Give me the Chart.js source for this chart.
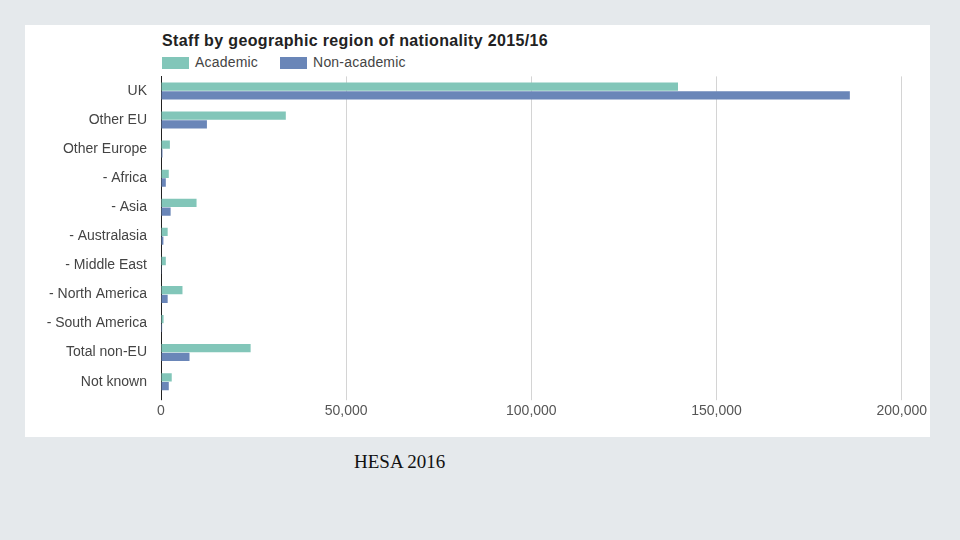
<!DOCTYPE html>
<html>
<head>
<meta charset="utf-8">
<script src="https://cdn.jsdelivr.net/npm/chart.js@4.4.1/dist/chart.umd.min.js"></script>
<style>
    body{ margin:0; width:960px; height:540px; background:#e5e9ec; position:relative; overflow:hidden; font-family:"Liberation Sans", Arial, sans-serif; }
    .panel{ position:absolute; left:25px; top:25px; width:905px; height:412px; background:#fff; }
    .title{ position:absolute; left:162px; top:32px; font-size:16px; letter-spacing:0.35px; font-weight:bold; color:#222; white-space:nowrap; }
    .legend{ position:absolute; top:54px; left:162px; font-size:14px; letter-spacing:0.2px; color:#444; white-space:nowrap; }
    .legend span.box{ display:inline-block; width:27px; height:12px; vertical-align:-2px; margin-right:6px; }
    .legend .item{ display:inline-block; margin-right:22px; }
    .wrap{ position:absolute; left:25px; top:54px; width:905px; height:369px; }
    .caption{ position:absolute; left:354px; top:451px; font-family:"Liberation Serif", "DejaVu Serif", serif; font-size:19px; color:#111; }
</style>
</head>
<body>
<div class="panel"></div>
<div class="title">Staff by geographic region of nationality 2015/16</div>
<div class="legend"></div>
<div class="wrap"><canvas id="bars"></canvas></div>
<div class="caption">HESA 2016</div>
<script>
// 카테고리
const regions = ['UK', 'Other EU', 'Other Europe', '- Africa', '- Asia', '- Australasia',
    '- Middle East', '- North America', '- South America', 'Total non-EU', 'Not known'];
// 학술 직원
const academic = [139600, 33700, 2400, 2100, 9600, 1800, 1300, 5800, 700, 24200, 2900];
// 비학술 직원
const nonAcademic = [186000, 12400, 400, 1300, 2600, 650, 200, 1800, 300, 7700, 2100];
const seriesNames = ['Academic', 'Non-academic'];
const colors = ['#82c6b9', '#6a86b8'];

// 범례
seriesNames.forEach((name, i) => {
    document.querySelector('.legend').insertAdjacentHTML('beforeend',
        `<span class="item"><span class="box" style="background:${colors[i]}"></span>${name}</span>`);
});

new Chart(document.getElementById('bars'), {
    type: 'bar',
    data: {
        labels: regions,
        datasets: [
            { label: seriesNames[0], data: academic, backgroundColor: colors[0] },
            { label: seriesNames[1], data: nonAcademic, backgroundColor: colors[1] }
        ]
    },
    options: {
        indexAxis: 'y',
        responsive: true,
        maintainAspectRatio: false,
        animation: false,
        categoryPercentage: 0.6,
        barPercentage: 0.95,
        layout: { padding: { top: 7, right: 17, bottom: 0, left: 0 } },
        plugins: {
            legend: { display: false },
            tooltip: { enabled: false }
        },
        scales: {
            x: {
                min: 0,
                max: 200000,
                border: { display: false },
                grid: {
                    color: ctx => ctx.tick && ctx.tick.value === 0 ? '#222' : '#d4d4d4',
                    tickLength: 4
                },
                ticks: {
                    stepSize: 50000,
                    color: '#555',
                    padding: 3,
                    font: { family: 'Liberation Sans', size: 14 },
                    callback: v => v.toLocaleString('en-US')
                }
            },
            y: {
                afterFit(scale){ scale.width = 136; },
                border: { display: true, color: '#222' },
                grid: { display: false, drawTicks: false },
                ticks: {
                    color: '#444',
                    padding: 14,
                    font: { family: 'Liberation Sans', size: 14 }
                }
            }
        }
    }
});
</script>
</body>
</html>
